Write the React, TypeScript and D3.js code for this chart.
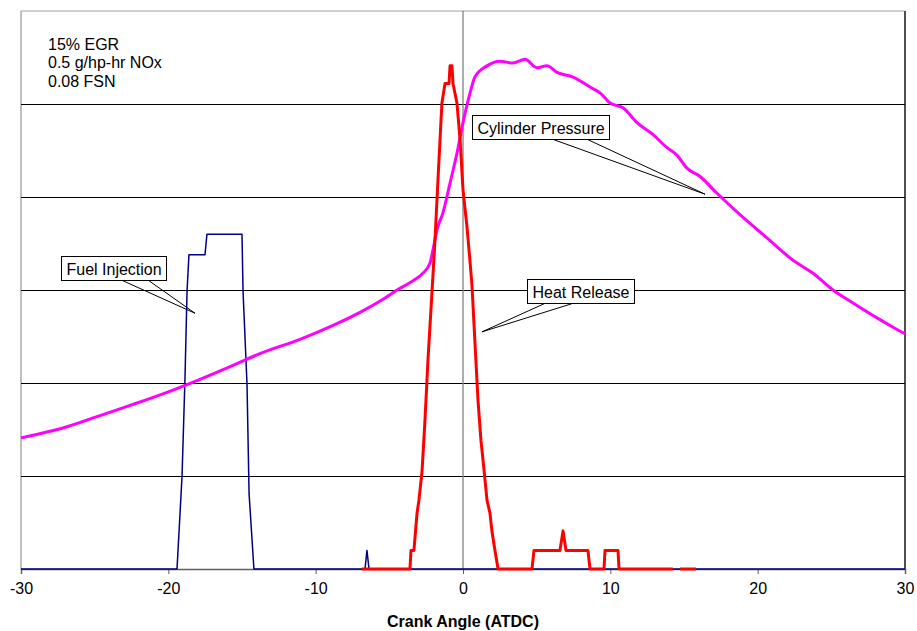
import React, { useEffect, useRef } from 'react';
import * as d3 from 'd3';

// crank angle (deg ATDC) and trace level (in gridline units, 0..6)
const pressureAngle = [-30, -26.88, -24.64, -22.4, -20.09, -17.85, -15.61, -13.57, -11.06, -8.82, -6.99, -5.43, -4.48, -3.39, -2.72, -2.24, -2.04, -1.76, -1.36, -0.88, -0.41, 0, 0.48, 0.81, 1.63, 2.51, 3.39, 4.21, 5.02, 5.7, 6.38, 7.47, 8.76, 9.3, 9.98, 10.86, 11.81, 12.9, 13.85, 14.52, 15.2, 16.09, 17.24, 18.8, 20.63, 22.4, 23.76, 25.11, 26.47, 28.1, 29.19, 30];
const pressureValue = [1.41, 1.53, 1.65, 1.77, 1.9, 2.04, 2.19, 2.33, 2.47, 2.62, 2.76, 2.9, 3.0, 3.1, 3.18, 3.29, 3.43, 3.65, 3.83, 4.15, 4.47, 4.8, 5.12, 5.29, 5.41, 5.46, 5.44, 5.48, 5.39, 5.41, 5.34, 5.29, 5.17, 5.12, 5.01, 4.96, 4.8, 4.67, 4.53, 4.45, 4.31, 4.22, 4.04, 3.81, 3.56, 3.32, 3.18, 3.0, 2.86, 2.7, 2.6, 2.53];

const heatAngle = [-6.86, -3.6, -3.53, -3.33, -3.12, -2.99, -2.78, -2.58, -2.38, -2.1, -1.9, -1.7, -1.49, -1.43, -1.22, -0.95, -0.88, -0.75, -0.68, -0.41, -0.2, 0, 0.27, 0.48, 0.61, 0.81, 1.02, 1.22, 1.43, 1.63, 1.83, 1.97, 2.17, 2.38, 4.68, 4.82, 6.58, 6.79, 6.99, 8.48, 8.62, 9.57, 9.64, 10.52, 10.59, 14.25, 14.5, 14.73, 15.81];
const heatValue = [0, 0, 0.2, 0.2, 0.6, 0.74, 1.05, 1.6, 2.24, 2.99, 3.54, 4.18, 4.83, 5.01, 5.22, 5.22, 5.41, 5.41, 5.22, 5.01, 4.62, 4.08, 3.68, 3.3, 3.05, 2.44, 1.81, 1.38, 1.06, 0.74, 0.6, 0.4, 0.2, 0, 0, 0.2, 0.2, 0.41, 0.2, 0.2, 0, 0, 0.2, 0.2, 0, 0, NaN, 0, 0];

const fuelAngle = [-30, -19.41, -19.07, -18.87, -18.73, -18.6, -17.51, -17.38, -15.0, -14.93, -14.66, -14.52, -14.19, -6.65, -6.52, -6.38, 30];
const fuelValue = [0, 0, 1.0, 2.05, 2.99, 3.38, 3.38, 3.6, 3.6, 2.99, 1.99, 0.81, 0, 0, 0.2, 0, 0];

const xTicks = [-30, -20, -10, 0, 10, 20, 30];
const gridLevels = [1, 2, 3, 4, 5];
const noteLines = ['15% EGR', '0.5 g/hp-hr NOx', '0.08 FSN'];

const calloutText = ['Fuel Injection', 'Cylinder Pressure', 'Heat Release'];
const calloutBox = [[-27.29, 3.37], [0.61, 4.88], [4.34, 3.12]];
const calloutTip = [[-18.19, 2.75], [16.43, 4.03], [1.29, 2.55]];
const calloutBase = [[0.58, 0.83], [0.59, 0.84], [0.16, 0.42]];

const FONT = '"Liberation Sans", Arial, sans-serif';

const App = () => {
  const ref = useRef<SVGSVGElement>(null);

  useEffect(() => {
    const width = 917;
    const height = 631;
    const left = 21, right = 905, top = 11, bottom = 569;

    const svg = d3.select(ref.current);
    svg.selectAll('*').remove();
    svg.attr('width', width).attr('height', height);

    const x = d3.scaleLinear().domain([-30, 30]).range([left, right]);
    const y = d3.scaleLinear().domain([0, 6]).range([bottom, top]);

    // frame
    svg.append('line').attr('x1', left).attr('x2', right).attr('y1', top).attr('y2', top)
      .attr('stroke', '#a0a0a0').attr('stroke-width', 1);
    svg.append('line').attr('x1', left).attr('x2', left).attr('y1', top).attr('y2', bottom)
      .attr('stroke', '#808080').attr('stroke-width', 1);
    svg.append('line').attr('x1', right).attr('x2', right).attr('y1', top).attr('y2', bottom)
      .attr('stroke', '#505050').attr('stroke-width', 2);

    // gridlines
    svg.append('g').selectAll('line').data(gridLevels).join('line')
      .attr('x1', left).attr('x2', right)
      .attr('y1', d => Math.round(y(d)) + 0.5).attr('y2', d => Math.round(y(d)) + 0.5)
      .attr('stroke', '#000').attr('stroke-width', 1);

    // value axis crossing at 0
    svg.append('line').attr('x1', x(0)).attr('x2', x(0)).attr('y1', top).attr('y2', bottom)
      .attr('stroke', '#808080').attr('stroke-width', 1.3);

    // x axis
    const xAxis = svg.append('g').attr('transform', `translate(0,${bottom})`)
      .call(d3.axisBottom(x).tickValues(xTicks).tickSize(5).tickPadding(9).tickFormat(d => String(d)));
    xAxis.select('.domain').attr('stroke', '#606060').attr('stroke-width', 1.5);
    xAxis.selectAll('.tick line').attr('stroke', '#606060');
    xAxis.selectAll('.tick text')
      .attr('font-family', FONT).attr('font-size', 16).attr('fill', '#000');

    svg.append('text')
      .attr('x', x(0)).attr('y', 627)
      .attr('text-anchor', 'middle')
      .attr('font-family', FONT).attr('font-size', 16).attr('font-weight', 'bold')
      .text('Crank Angle (ATDC)');

    // series
    const line = d3.line<number>()
      .defined(d => !isNaN(d[1]))
      .x(d => x(d[0]))
      .y(d => y(d[1]));

    const fuel = fuelAngle.map((a, i) => [a, fuelValue[i]]);
    const pressure = pressureAngle.map((a, i) => [a, pressureValue[i]]);
    const heat = heatAngle.map((a, i) => [a, heatValue[i]]);

    svg.append('path').datum(fuel)
      .attr('fill', 'none').attr('stroke', '#000080').attr('stroke-width', 1.5)
      .attr('stroke-linejoin', 'round')
      .attr('d', line as any);

    svg.append('path').datum(pressure)
      .attr('fill', 'none').attr('stroke', '#ff00ff').attr('stroke-width', 3)
      .attr('stroke-linejoin', 'round')
      .attr('d', line.curve(d3.curveMonotoneX) as any);

    svg.append('path').datum(heat)
      .attr('fill', 'none').attr('stroke', '#ff0000').attr('stroke-width', 3)
      .attr('stroke-linejoin', 'round')
      .attr('d', line.curve(d3.curveLinear) as any);

    // note
    const note = svg.append('text')
      .attr('font-family', FONT).attr('font-size', 16).attr('fill', '#000');
    noteLines.forEach((t, i) => {
      note.append('tspan').attr('x', 48).attr('y', 49.5 + i * 18.5).text(t);
    });

    // callouts
    calloutText.forEach((t, i) => {
      const bx = Math.round(x(calloutBox[i][0])) + 0.5;
      const by = Math.round(y(calloutBox[i][1])) + 0.5;
      const g = svg.append('g');
      const label = g.append('text')
        .attr('font-family', FONT).attr('font-size', 16).attr('fill', '#000')
        .attr('x', bx + 5).attr('y', by + 18)
        .text(t);
      const tw = (label.node() as SVGTextElement).getComputedTextLength();
      const bw = Math.round(tw + 10);
      const bh = 24;
      const tx = x(calloutTip[i][0]);
      const ty = y(calloutTip[i][1]);
      calloutBase[i].forEach(f => {
        g.insert('line', 'text')
          .attr('x1', bx + f * bw).attr('y1', by + bh)
          .attr('x2', tx).attr('y2', ty)
          .attr('stroke', '#000').attr('stroke-width', 1);
      });
      g.insert('rect', 'text')
        .attr('x', bx).attr('y', by).attr('width', bw).attr('height', bh)
        .attr('fill', '#fff').attr('stroke', '#000').attr('stroke-width', 1);
    });
  }, []);

  return (
    <svg ref={ref} style={{ position: 'absolute', left: 0, top: 0, display: 'block' }}></svg>
  );
};

export default App;
